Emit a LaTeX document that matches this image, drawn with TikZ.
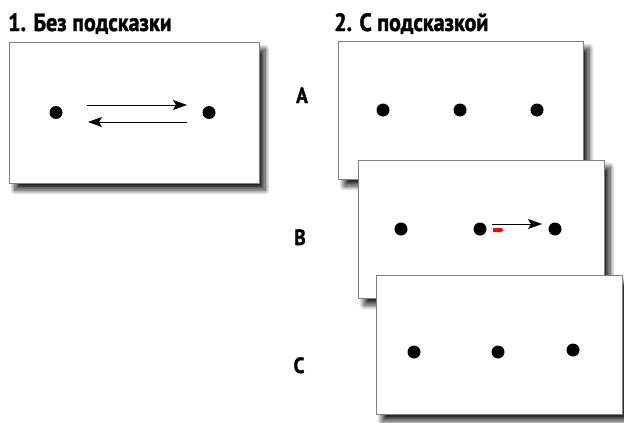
\documentclass[tikz,border=0pt]{standalone}
\usepackage{fontspec}
\newfontfamily\headfont[FakeStretch=0.88,FakeBold=1.5]{PT Sans Bold}
\usetikzlibrary{arrows.meta,shadows.blur}
\tikzset{
  card/.style={draw=black!50, line width=1pt, fill=white, inner sep=0pt, outer sep=0pt, anchor=north west,
    blur shadow={shadow xshift=6pt, shadow yshift=-7pt, shadow blur steps=10, shadow blur radius=5pt, shadow opacity=85}},
  dot/.style={circle, fill=black, inner sep=0pt, minimum size=13pt},
  move/.style={-{Stealth[length=14pt,width=10pt,inset=3pt]}, line width=1pt},
  heading/.style={font=\headfont\fontsize{25}{27}\selectfont, anchor=base west, inner sep=0pt},
  tag/.style={font=\headfont\fontsize{22}{23}\selectfont, anchor=base, inner sep=0pt},
}
\begin{document}
\begin{tikzpicture}[x=1pt,y=-1pt]
  \useasboundingbox (0,0) rectangle (624,423);
  % headings
  \node [heading] (head1) at (8,31) {1. Без подсказки};
  \node [heading] (head2) at (334,31) {2. С подсказкой};
  % panel 1
  \node [card, minimum width=250pt, minimum height=141pt] (plain) at (9,42) {};
  \node [dot] (p1) at (56,112.5) {};
  \node [dot] (p2) at (209,112.5) {};
  \coordinate (fwdA) at (87,105);
  \coordinate (fwdB) at (187,105);
  \coordinate (bckA) at (187,122);
  \coordinate (bckB) at (88,122);
  \draw [move] (fwdA) -- (fwdB);
  \draw [move] (bckA) -- (bckB);
  % panels with hint
  \node [card, minimum width=245pt, minimum height=138pt] (cardA) at (338,41) {};
  \node [tag] (tagA) at (302,103) {A};
  \foreach \x [count=\i] in {383,460,537}
    \node [dot] (a\i) at (\x,110) {};
  \node [card, minimum width=246pt, minimum height=138pt] (cardB) at (358,160) {};
  \node [tag] (tagB) at (300,245) {B};
  \foreach \x [count=\i] in {401,480,555}
    \node [dot] (b\i) at (\x,229) {};
  \coordinate (hintA) at (492,224);
  \coordinate (hintB) at (542,224);
  \draw [move] (hintA) -- (hintB);
  \fill [red] (493,228) -- (501,228) -- (503.5,230) -- (501,232) -- (493,232) -- cycle;
  \node [card, minimum width=246pt, minimum height=139pt] (cardC) at (376,275) {};
  \node [tag] (tagC) at (299,373) {C};
  \foreach \x/\y [count=\i] in {414/352,498/352,573/350}
    \node [dot] (c\i) at (\x,\y) {};
\end{tikzpicture}
\end{document}
